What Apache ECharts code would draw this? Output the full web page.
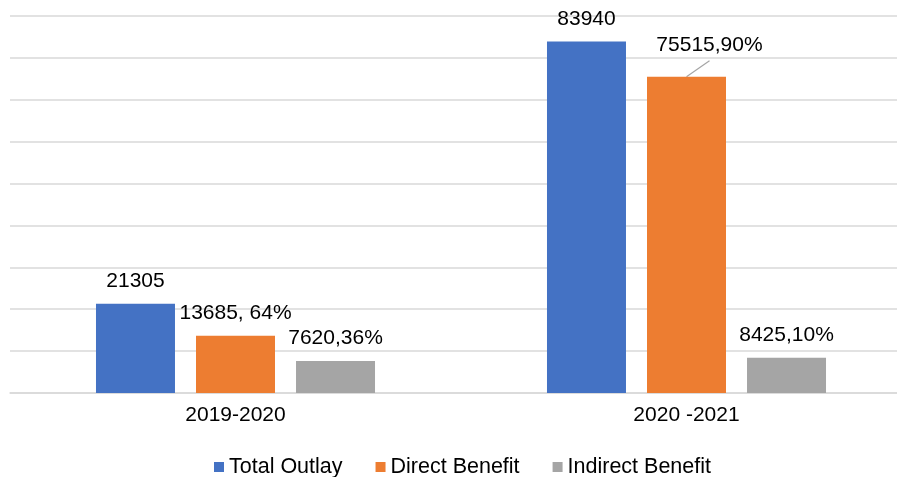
<!DOCTYPE html>
<html>
<head>
<meta charset="utf-8">
<script src="https://cdn.jsdelivr.net/npm/echarts@6/dist/echarts.min.js"></script>
<style>
  html, body { margin: 0; padding: 0; background: #fff; overflow: hidden; }
  #chart { width: 912px; height: 477px; }
</style>
</head>
<body>
<div id="chart"></div>
<script>
// Budget outlay by year, split into direct and indirect benefit
const categories = ['2019-2020', '2020 -2021'];
const totalOutlay = [21305, 83940];
const directBenefit = [13685, 75515];
const indirectBenefit = [7620, 8425];
// Share suffixes shown after each benefit value
const directSuffix = [', 64%', ',90%'];
const indirectSuffix = [',36%', ',10%'];

const FONT = '"Liberation Sans", Arial, sans-serif';
const TEXT = '#000';

const chart = echarts.init(document.getElementById('chart'), null, { renderer: 'canvas' });

const labelBase = {
  show: true,
  position: 'top',
  distance: 12,
  color: TEXT,
  fontFamily: FONT,
  fontSize: 21
};

// The second direct-benefit label is nudged up and to the right
const LEAD_DX = 23, LEAD_DY = -9;

chart.setOption({
  animation: false,
  backgroundColor: '#fff',
  textStyle: { fontFamily: FONT },
  grid: { left: 10, right: 0, top: 16, bottom: 84, containLabel: false },
  legend: {
    left: 214,
    top: 456,
    padding: 0,
    itemWidth: 10,
    itemHeight: 10,
    itemGap: 33,
    icon: 'rect',
    textStyle: { color: TEXT, fontFamily: FONT, fontSize: 21.5 },
    data: ['Total Outlay', 'Direct Benefit', 'Indirect Benefit']
  },
  xAxis: {
    type: 'category',
    data: categories,
    axisLine: { show: true, lineStyle: { color: '#d9d9d9', width: 1.5 } },
    axisTick: { show: false },
    axisLabel: { color: TEXT, fontFamily: FONT, fontSize: 21, margin: 12 }
  },
  yAxis: {
    type: 'value',
    min: 0,
    max: 90000,
    interval: 10000,
    axisLine: { show: false },
    axisTick: { show: false },
    axisLabel: { show: false },
    splitLine: { lineStyle: { color: '#d9d9d9', width: 1.5 } }
  },
  series: [
    {
      name: 'Total Outlay',
      type: 'bar',
      data: totalOutlay,
      barWidth: 79,
      barGap: '26.6%',
      itemStyle: { color: '#4472C4' },
      label: labelBase
    },
    {
      name: 'Direct Benefit',
      type: 'bar',
      data: directBenefit,
      barWidth: 79,
      barGap: '26.6%',
      itemStyle: { color: '#ED7D31' },
      label: Object.assign({}, labelBase, {
        formatter: p => p.value + directSuffix[p.dataIndex]
      }),
      labelLayout: p => (p.dataIndex === 1 ? { dx: LEAD_DX, dy: LEAD_DY } : {})
    },
    {
      name: 'Indirect Benefit',
      type: 'bar',
      data: indirectBenefit,
      barWidth: 79,
      barGap: '26.6%',
      itemStyle: { color: '#A5A5A5' },
      label: Object.assign({}, labelBase, {
        formatter: p => p.value + indirectSuffix[p.dataIndex]
      })
    }
  ]
});

// Leader line from the top of the shifted bar to its label
const barLayout = chart.getModel().getSeriesByIndex(1).getData().getItemLayout(1);
const bx = barLayout.x + barLayout.width / 2;
const by = Math.min(barLayout.y, barLayout.y + barLayout.height);
chart.setOption({
  graphic: [{
    type: 'line',
    silent: true,
    shape: { x1: bx, y1: by, x2: bx + LEAD_DX, y2: by + LEAD_DY - 7 },
    style: { stroke: '#a5a5a5', lineWidth: 1.2 }
  }]
});
</script>
</body>
</html>
